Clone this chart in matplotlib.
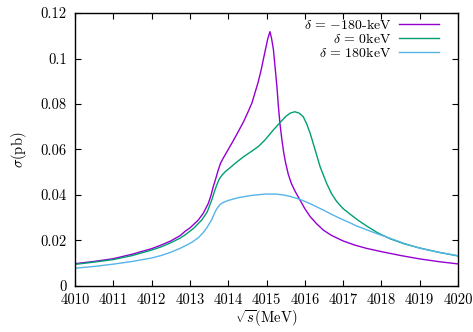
import matplotlib
matplotlib.use('agg')
import matplotlib.pyplot as plt

# gnuplot-like look with Computer Modern text
plt.rcParams['font.family'] = 'serif'
plt.rcParams['font.serif'] = ['cmr10']
plt.rcParams['mathtext.fontset'] = 'cm'
plt.rcParams['axes.unicode_minus'] = False
plt.rcParams['font.size'] = 10.5

# delta = -180 keV
x_m180 = [4010, 4010.5, 4011, 4011.5, 4012, 4012.25, 4012.5, 4012.75, 4012.87,
          4013.0, 4013.22, 4013.35, 4013.48, 4013.55, 4013.61, 4013.68, 4013.74,
          4013.8, 4013.88, 4014.0, 4014.13, 4014.26, 4014.4, 4014.52, 4014.62,
          4014.7, 4014.78, 4014.86, 4014.96, 4015.03, 4015.09, 4015.13, 4015.18,
          4015.23, 4015.27, 4015.31, 4015.35, 4015.4, 4015.45, 4015.5, 4015.57,
          4015.65, 4015.75, 4015.85, 4016.0, 4016.14, 4016.3, 4016.48, 4016.7,
          4017.0, 4017.3, 4017.62, 4018.0, 4018.5, 4019.0, 4019.5, 4020]
y_m180 = [0.0098, 0.0108, 0.0120, 0.0140, 0.0164, 0.0180, 0.0198, 0.0222, 0.0240,
          0.0255, 0.0290, 0.0320, 0.0363, 0.0398, 0.0437, 0.0475, 0.0510,
          0.0540, 0.0565, 0.0600, 0.0638, 0.0678, 0.0722, 0.0766, 0.0805,
          0.0850, 0.0895, 0.0950, 0.1030, 0.1085, 0.1118, 0.1090, 0.1040,
          0.0950, 0.0880, 0.0790, 0.0715, 0.0645, 0.0585, 0.0540, 0.0490,
          0.0450, 0.0415, 0.0385, 0.0340, 0.0305, 0.0275, 0.0246, 0.0222,
          0.0198, 0.0180, 0.0165, 0.0151, 0.0134, 0.0119, 0.0107, 0.0097]

# delta = 0 keV
x_0 = [4010, 4010.5, 4011, 4011.5, 4012, 4012.25, 4012.5, 4012.75, 4012.87,
       4013.1, 4013.31, 4013.45, 4013.57, 4013.64, 4013.7, 4013.76, 4013.83,
       4013.92, 4014.05, 4014.18, 4014.4, 4014.61, 4014.8, 4014.96, 4015.18,
       4015.35, 4015.5, 4015.62, 4015.74, 4015.85, 4015.96, 4016.05, 4016.14,
       4016.27, 4016.4, 4016.57, 4016.7, 4016.83, 4017.0, 4017.18, 4017.4,
       4017.62, 4017.9, 4018.22, 4018.6, 4019.0, 4019.5, 4020]
y_0 = [0.0095, 0.0105, 0.0116, 0.0134, 0.0158, 0.0172, 0.0190, 0.0211, 0.0224,
       0.0254, 0.0290, 0.0325, 0.0378, 0.0415, 0.0444, 0.0468, 0.0486,
       0.0502, 0.0520, 0.0539, 0.0568, 0.0592, 0.0615, 0.0642, 0.0686,
       0.0718, 0.0745, 0.0760, 0.0766, 0.0760, 0.0744, 0.0712, 0.0671,
       0.0598, 0.0524, 0.0451, 0.0405, 0.0372, 0.0340, 0.0316, 0.0288,
       0.0263, 0.0234, 0.0208, 0.0185, 0.0167, 0.0148, 0.0132]

# delta = 180 keV
x_180 = [4010, 4010.5, 4011, 4011.5, 4012, 4012.25, 4012.5, 4012.75, 4012.87,
         4013.05, 4013.22, 4013.35, 4013.45, 4013.52, 4013.57, 4013.63, 4013.68,
         4013.74, 4013.8, 4013.88, 4014.0, 4014.26, 4014.6, 4014.96, 4015.25,
         4015.45, 4015.61, 4015.87, 4016.15, 4016.48, 4016.7, 4016.92, 4017.15,
         4017.35, 4017.8, 4018.22, 4018.6, 4019.0, 4019.5, 4020]
y_180 = [0.0078, 0.0086, 0.0096, 0.0108, 0.0123, 0.0134, 0.0148, 0.0166, 0.0176,
         0.0192, 0.0212, 0.0235, 0.0258, 0.0278, 0.0292, 0.0315, 0.0333,
         0.0349, 0.0360, 0.0368, 0.0376, 0.0388, 0.0398, 0.0404, 0.0404,
         0.0400, 0.0394, 0.0381, 0.0361, 0.0334, 0.0315, 0.0297, 0.0280,
         0.0264, 0.0235, 0.0210, 0.0187, 0.0166, 0.0148, 0.0133]

labels = [r'$\delta\,=\,{-}180$-keV', r'$\delta\,=\,0$keV', r'$\delta\,=\,180$keV']
colors = ['#9400d3', '#009e73', '#56b4e9']

xticks = [4010, 4011, 4012, 4013, 4014, 4015, 4016, 4017, 4018, 4019, 4020]
yticks = [0, 0.02, 0.04, 0.06, 0.08, 0.1, 0.12]
ytick_labels = ['0', '0.02', '0.04', '0.06', '0.08', '0.1', '0.12']

fig = plt.figure(figsize=(4.73, 3.32), dpi=100)
ax = fig.add_axes([0.1586, 0.1386, 0.8097, 0.8222])

ax.plot(x_m180, y_m180, '-', color=colors[0], lw=1.0, label=labels[0])
ax.plot(x_0, y_0, '-', color=colors[1], lw=1.0, label=labels[1])
ax.plot(x_180, y_180, '-', color=colors[2], lw=1.0, label=labels[2])

ax.set_xlim(4010, 4020)
ax.set_ylim(0, 0.12)
ax.set_xticks(xticks)
ax.set_xticklabels([str(t) for t in xticks])
ax.set_yticks(yticks)
ax.set_yticklabels(ytick_labels)
ax.tick_params(direction='in', top=True, right=True, length=4, width=0.8)
ax.tick_params(axis='x', pad=5)
ax.tick_params(axis='y', pad=6)
for s in ax.spines.values():
    s.set_linewidth(1.0)

ax.set_xlabel(r'$\sqrt{s}$(MeV)', labelpad=1)
ax.set_ylabel(r'$\sigma$(pb)', labelpad=8)

ax.legend(loc='upper right', bbox_to_anchor=(0.951, 0.981), frameon=False,
          markerfirst=False, handlelength=2.9, handletextpad=0.55,
          labelspacing=0.0, borderaxespad=0, borderpad=0, fontsize=10)

plt.savefig('out.png', dpi=100)
